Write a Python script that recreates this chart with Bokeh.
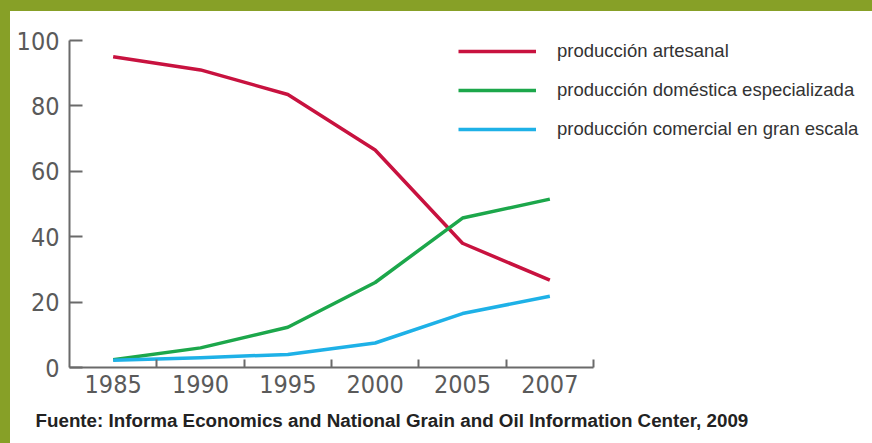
from bokeh.plotting import figure
from bokeh.models import (Range1d, FixedTicker, Legend, LegendItem, Title, Spacer)
from bokeh.layouts import column, row
from bokeh.embed import file_html
from bokeh.resources import INLINE
import numpy as np

# Data
years = ["1985", "1990", "1995", "2000", "2005", "2007"]
artesanal = [95, 91, 83.5, 66.5, 38, 26.7]
domestica = [2.4, 6, 12.3, 26, 45.7, 51.5]
comercial = [2.2, 3, 4, 7.5, 16.5, 21.8]
y_ticks = [0, 20, 40, 60, 80, 100]

series_names = ["producción artesanal",
                "producción doméstica especializada",
                "producción comercial en gran escala"]
source_text = "Fuente: Informa Economics and National Grain and Oil Information Center, 2009"

OLIVE = "#87a027"
AXIS = "#6a6a6a"
TICK_FONT = "DejaVu Sans Condensed"

# each year occupies one unit slot; marks sit in the middle of the slot
x = np.arange(len(years)) + 0.5

p = figure(width=862, height=432, output_backend="svg", toolbar_location=None,
           x_range=Range1d(0, 803 / (524 / 6)), y_range=Range1d(0, 100),
           min_border_left=59, min_border_right=0, min_border_top=29,
           min_border_bottom=75)
p.outline_line_color = None
p.grid.visible = False
p.background_fill_color = "white"
p.border_fill_color = "white"

colors = ["#c8123f", "#1ca74b", "#1eb1e7"]
renderers = []
for vals, c in zip([artesanal, domestica, comercial], colors):
    r = p.line(x, vals, line_color=c, line_width=3.5, line_join="round")
    renderers.append(r)

# x axis: labels under each slot, ticks at slot boundaries
xa = p.xaxis[0]
xa.bounds = (0, len(years))
xa.ticker = FixedTicker(ticks=list(x), minor_ticks=list(range(1, len(years) + 1)))
xa.major_label_overrides = {float(v): yr for v, yr in zip(x, years)}
xa.major_tick_in = 0
xa.major_tick_out = 0
xa.minor_tick_in = 8
xa.minor_tick_out = 0
xa.minor_tick_line_color = AXIS
xa.minor_tick_line_width = 2
xa.major_label_standoff = 7

ya = p.yaxis[0]
ya.bounds = (0, 100)
ya.ticker = FixedTicker(ticks=y_ticks)
ya.major_tick_in = 13
ya.major_tick_out = 0
ya.minor_tick_line_color = None
ya.major_label_standoff = 10

for ax in (xa, ya):
    ax.axis_line_color = AXIS
    ax.axis_line_width = 2
    ax.major_tick_line_color = AXIS
    ax.major_tick_line_width = 2
    ax.major_label_text_font = TICK_FONT
    ax.major_label_text_font_size = "25px"
    ax.major_label_text_color = "#5a5a5a"

legend = Legend(items=[LegendItem(label=n, renderers=[r]) for n, r in zip(series_names, renderers)],
                location=(389, 227), orientation="vertical",
                glyph_width=78, glyph_height=22, spacing=17, padding=0, margin=0,
                label_standoff=21, label_height=22, label_text_font="Liberation Sans",
                label_text_font_size="18.5px", label_text_color="#333333",
                border_line_color=None, background_fill_alpha=0)
p.add_layout(legend)

p.add_layout(Title(text=source_text, align="left", offset=-34, standoff=25,
                   text_font="Liberation Sans", text_font_size="18.8px",
                   text_font_style="bold", text_color="#222222"), "below")

top_band = Spacer(width=872, height=11, styles={"background-color": OLIVE})
left_band = Spacer(width=10, height=432, styles={"background-color": OLIVE})
layout = column(top_band, row(left_band, p, spacing=0), spacing=0)

open("out.html", "w").write(file_html(layout, INLINE))
